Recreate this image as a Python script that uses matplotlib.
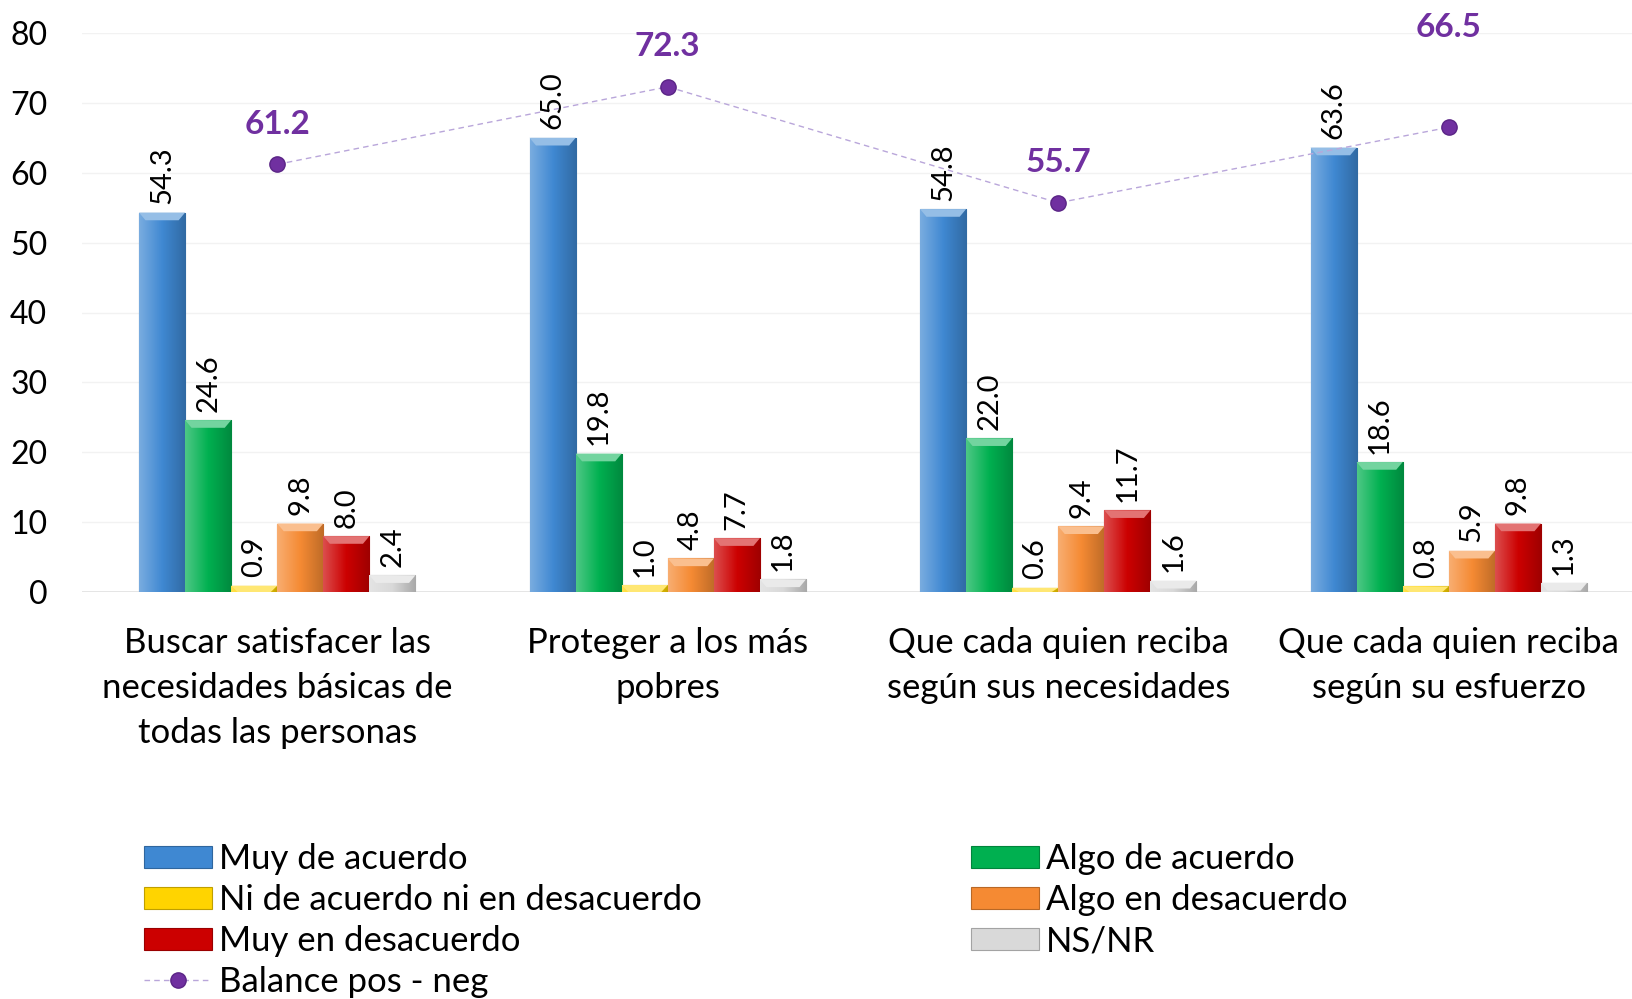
import numpy as np
import matplotlib.pyplot as plt
from matplotlib.colors import to_rgb
from matplotlib.patches import Polygon

plt.rcParams['font.family'] = ['Lato', 'DejaVu Sans']

categories = ["Buscar satisfacer las\nnecesidades básicas de\ntodas las personas",
              "Proteger a los más\npobres",
              "Que cada quien reciba\nsegún sus necesidades",
              "Que cada quien reciba\nsegún su esfuerzo"]
series_names = ["Muy de acuerdo", "Algo de acuerdo", "Ni de acuerdo ni en desacuerdo",
                "Algo en desacuerdo", "Muy en desacuerdo", "NS/NR"]
muy_acuerdo = [54.3, 65.0, 54.8, 63.6]
algo_acuerdo = [24.6, 19.8, 22.0, 18.6]
ni_ni = [0.9, 1.0, 0.6, 0.8]
algo_desacuerdo = [9.8, 4.8, 9.4, 5.9]
muy_desacuerdo = [8.0, 7.7, 11.7, 9.8]
ns_nr = [2.4, 1.8, 1.6, 1.3]
balance = [61.2, 72.3, 55.7, 66.5]
balance_name = "Balance pos - neg"

series = [muy_acuerdo, algo_acuerdo, ni_ni, algo_desacuerdo, muy_desacuerdo, ns_nr]
colors = ['#3F88D2', '#00B050', '#FFD400', '#F58A33', '#CC0000', '#D9D9D9']
purple = '#7030A0'


def shade_bar(ax, bar, color):
    # fake the office-style bevel: side gradient plus lighter top cap
    base = np.array(to_rgb(color))
    light = base + (1 - base) * 0.3
    dark = base * 0.78
    t = np.linspace(0, 1, 40)[:, None]
    grad = np.where(t < 0.5, light + (base - light) * (t / 0.5),
                    base + (dark - base) * ((t - 0.5) / 0.5))
    x0, y0 = bar.get_x(), bar.get_y()
    w, h = bar.get_width(), bar.get_height()
    im = ax.imshow(grad[None, :, :], extent=[x0, x0 + w, y0, y0 + h], aspect='auto',
                   interpolation='bilinear', zorder=2.1)
    im.set_clip_path(bar)
    cap = min(1.1, h)
    d = w * 0.14
    top = y0 + h
    poly = Polygon([(x0, top), (x0 + w, top), (x0 + w - d, top - cap), (x0 + d, top - cap)],
                   closed=True, facecolor=base + (1 - base) * 0.45, edgecolor='none', zorder=2.2)
    ax.add_patch(poly)


fig = plt.figure(figsize=(16.32, 9.99), dpi=100)
ax = fig.add_axes([82 / 1632, 1 - 592 / 999, 1 - 82 / 1632, (592 - 33) / 999])

x = np.arange(len(categories))
width = 0.118
containers = []
for i, (vals, col) in enumerate(zip(series, colors)):
    pos = x + (i - 2.5) * width
    bars = ax.bar(pos, vals, width, color=col, edgecolor=(np.array(to_rgb(col)) * 0.75),
                  linewidth=0.8, label=series_names[i], zorder=2)
    containers.append(bars)
    for b, v in zip(bars, vals):
        shade_bar(ax, b, col)
        ax.annotate(f'{v:.1f}', (b.get_x() + b.get_width() / 2, v), xytext=(0, 6),
                    textcoords='offset points', rotation=90, ha='center', va='bottom',
                    fontsize=21, color='black', zorder=4)

line, = ax.plot(x, balance, color='#B9A6DA', lw=1, ls=(0, (4, 3)), marker='o',
                markersize=11, markerfacecolor=purple, markeredgecolor='#5A2486',
                label=balance_name, zorder=3)
# last label sits higher in the original to clear the 63.6 bar label
label_lift = [29, 29, 29, 72]
for xi, v, lift in zip(x, balance, label_lift):
    ax.annotate(f'{v:.1f}', (xi, v), xytext=(0, lift), textcoords='offset points',
                ha='center', va='center', fontsize=24, fontweight='bold', color=purple,
                annotation_clip=False)

ax.set_xlim(-0.5, 3.5 - 12 / 390)
ax.set_ylim(0, 80)
ax.set_yticks(range(0, 81, 10))
ax.set_xticks(x)
ax.set_xticklabels(categories, linespacing=1.5)
ax.tick_params(axis='y', length=0, labelsize=23, pad=25)
ax.tick_params(axis='x', length=0, labelsize=25, pad=25)
ax.yaxis.grid(True, color='#F2F2F2', lw=1)
ax.set_axisbelow(True)
for s in ax.spines.values():
    s.set_visible(False)
ax.axhline(0, color='#E3E3E3', lw=1.3, zorder=1)

handles = [containers[0], containers[2], containers[4], line,
           containers[1], containers[3], containers[5]]
labels = [h.get_label() for h in handles]
fig.legend(handles, labels, loc='upper left', bbox_to_anchor=(144 / 1632, 1 - 843 / 999),
           ncol=2, frameon=False, fontsize=25, handlelength=1.96, handleheight=0.6,
           handletextpad=0.2, labelspacing=0.26, columnspacing=7.75, borderaxespad=0,
           borderpad=0)

fig.savefig('out.png', dpi=100)
